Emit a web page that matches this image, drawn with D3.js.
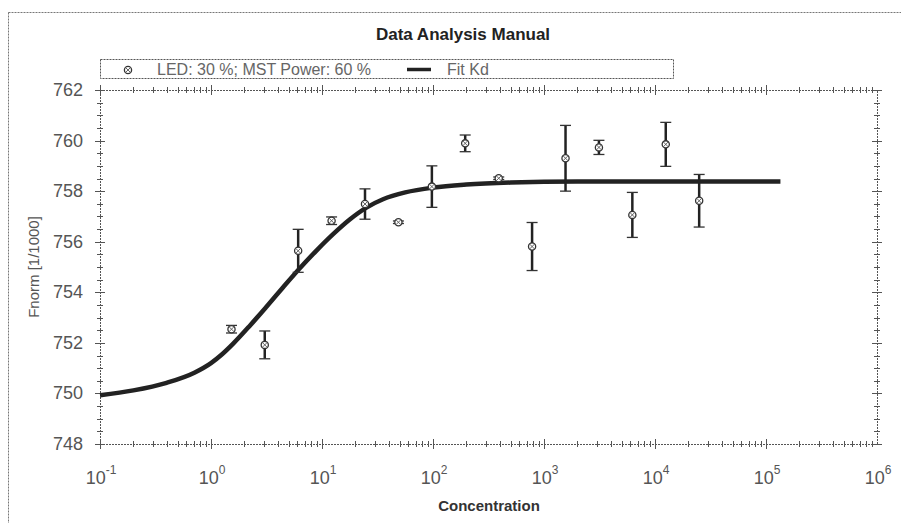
<!DOCTYPE html>
<html>
<head>
<meta charset="utf-8">
<script src="https://cdn.jsdelivr.net/npm/d3@7"></script>
<style>
	body { margin: 0; background: #fff; }
	svg { display: block; font-family: "Liberation Sans", Arial, sans-serif; }
</style>
</head>
<body>
<div id="graph"></div>
<script>
// measured points (concentration, Fnorm, error)
const conc  = [1.53, 3.05, 6.1, 12.2, 24.4, 48.8, 97.7, 195, 391, 781, 1563, 3125, 6250, 12500, 25000];
const fnorm = [752.54, 751.92, 755.64, 756.83, 757.49, 756.77, 758.18, 759.89, 758.51, 755.81, 759.30, 759.73, 757.06, 759.85, 757.62];
const errs  = [0.15, 0.55, 0.85, 0.15, 0.6, 0.05, 0.82, 0.33, 0.05, 0.95, 1.3, 0.28, 0.89, 0.87, 1.04];

// fit curve
const fitConc  = [0.1, 0.2, 0.398, 0.708, 1, 1.259, 1.585, 2.239, 3.162, 4.467, 6.31, 8.913, 12.59, 17.78, 25.12, 35.48, 56.23, 100, 199.5, 501.2, 1995, 134900];
const fitFnorm = [749.93, 750.12, 750.42, 750.82, 751.2, 751.55, 751.97, 752.68, 753.43, 754.2, 754.95, 755.65, 756.3, 756.88, 757.35, 757.68, 757.95, 758.14, 758.26, 758.34, 758.38, 758.38];

const yTicks = [748, 750, 752, 754, 756, 758, 760, 762];
const xTickExp = [-1, 0, 1, 2, 3, 4, 5, 6];

const title = 'Data Analysis Manual';
const seriesName = 'LED: 30 %; MST Power: 60 %';
const fitName = 'Fit Kd';

let W = 901, H = 523;
let margin = { top: 90, right: 24, bottom: 79, left: 100 };
let x = d3.scaleLog().domain([0.1, 1e6]).range([margin.left, W - margin.right]);
let y = d3.scaleLinear().domain([748, 762]).range([H - margin.bottom, margin.top]);

let svg = d3.select('#graph').append('svg')
	.attr('width', W)
	.attr('height', H);

// outer dotted frame
svg.append('rect')
	.attr('x', 8.5).attr('y', 12.5)
	.attr('width', 900).attr('height', 520)
	.attr('fill', 'none')
	.attr('stroke', '#777')
	.attr('stroke-dasharray', '2,1');

svg.append('text')
	.attr('x', 463).attr('y', 40)
	.attr('text-anchor', 'middle')
	.attr('font-size', 17)
	.attr('font-weight', 'bold')
	.attr('fill', '#222')
	.text(title);

// legend
let lg = svg.append('g');
lg.append('rect')
	.attr('x', 100.5).attr('y', 59.5)
	.attr('width', 573).attr('height', 19)
	.attr('fill', 'none')
	.attr('stroke', '#555')
	.attr('stroke-dasharray', '2,1');

const axisStroke = g => g
	.attr('stroke', '#555')
	.attr('stroke-width', 1)
	.attr('stroke-dasharray', '2,1');

let x0 = x.range()[0], x1 = x.range()[1];
let y0 = y.range()[0], y1 = y.range()[1];

// frame lines
let frame = svg.append('g').call(axisStroke);
frame.append('line').attr('x1', x0).attr('x2', x1).attr('y1', y0 + 0.5).attr('y2', y0 + 0.5);
frame.append('line').attr('x1', x0).attr('x2', x1).attr('y1', y1 + 0.5).attr('y2', y1 + 0.5);
frame.append('line').attr('x1', x0 + 0.5).attr('x2', x0 + 0.5).attr('y1', y0).attr('y2', y1);
frame.append('line').attr('x1', x1 + 0.5).attr('x2', x1 + 0.5).attr('y1', y0).attr('y2', y1);

// y ticks
let yMinor = d3.range(748, 762.01, 0.5);
let tk = svg.append('g').attr('stroke', '#555').attr('stroke-width', 1);
yMinor.forEach(v => {
	let major = Math.abs(v / 2 - Math.round(v / 2)) < 1e-6;
	let len = major ? 5 : 3;
	let yy = Math.round(y(v)) + 0.5;
	[x0, x1].forEach(xx => {
		tk.append('line').attr('x1', xx - len).attr('x2', xx + len).attr('y1', yy).attr('y2', yy);
	});
});

// x ticks (log minors)
xTickExp.forEach((e, i) => {
	if (i === xTickExp.length - 1) return;
	for (let m = 1; m < 10; m++) {
		let xx = Math.round(x(m * Math.pow(10, e))) + 0.5;
		let len = m === 1 ? 5 : 3;
		[y0, y1].forEach(yy => {
			tk.append('line').attr('x1', xx).attr('x2', xx).attr('y1', yy - len).attr('y2', yy + len);
		});
	}
});

svg.append('g')
	.selectAll('text')
	.data(yTicks)
	.join('text')
		.attr('x', 83)
		.attr('y', d => y(d) + 6)
		.attr('text-anchor', 'end')
		.attr('font-size', 18)
		.attr('fill', '#555')
		.text(d => d);

let xl = svg.append('g')
	.selectAll('text')
	.data(xTickExp)
	.join('text')
		.attr('x', d => x(Math.pow(10, d)) + 1)
		.attr('y', 484)
		.attr('text-anchor', 'middle')
		.attr('font-size', 18)
		.attr('fill', '#555');
xl.append('tspan').text('10');
xl.append('tspan').attr('dy', -10).attr('font-size', 12).text(d => d);

svg.append('text')
	.attr('x', 489).attr('y', 511)
	.attr('text-anchor', 'middle')
	.attr('font-size', 15)
	.attr('font-weight', 'bold')
	.attr('fill', '#333')
	.text('Concentration');

svg.append('text')
	.attr('transform', 'translate(39, 267) rotate(-90)')
	.attr('text-anchor', 'middle')
	.attr('font-size', 15)
	.attr('fill', '#555')
	.text('Fnorm [1/1000]');

// fit line
let line = d3.line()
	.x((d, i) => x(fitConc[i]))
	.y(d => y(d))
	.curve(d3.curveMonotoneX);

svg.append('path')
	.attr('d', line(fitFnorm))
	.attr('fill', 'none')
	.attr('stroke', '#222')
	.attr('stroke-width', 4.5);

// error bars + markers
let pts = svg.append('g');
conc.forEach((c, i) => {
	let xx = x(c);
	let ya = y(fnorm[i] + errs[i]), yb = y(fnorm[i] - errs[i]);
	pts.append('line').attr('x1', xx).attr('x2', xx).attr('y1', ya).attr('y2', yb)
		.attr('stroke', '#222').attr('stroke-width', 2.5);
	[ya, yb].forEach(yy => {
		pts.append('line').attr('x1', xx - 5.5).attr('x2', xx + 5.5).attr('y1', yy).attr('y2', yy)
			.attr('stroke', '#333').attr('stroke-width', 1.3);
	});
});

function marker(g, cx, cy) {
	g.append('circle').attr('cx', cx).attr('cy', cy).attr('r', 3.6)
		.attr('fill', '#fff').attr('stroke', '#333').attr('stroke-width', 1.3);
	g.append('path')
		.attr('d', `M${cx - 2.5},${cy - 2.5}L${cx + 2.5},${cy + 2.5}M${cx - 2.5},${cy + 2.5}L${cx + 2.5},${cy - 2.5}`)
		.attr('stroke', '#555').attr('stroke-width', 0.9);
}
conc.forEach((c, i) => marker(pts, x(c), y(fnorm[i])));

// legend content
marker(lg, 128, 70);
lg.append('text')
	.attr('x', 157).attr('y', 75)
	.attr('font-size', 16)
	.attr('fill', '#666')
	.text(seriesName);
lg.append('line')
	.attr('x1', 407).attr('x2', 431).attr('y1', 69.5).attr('y2', 69.5)
	.attr('stroke', '#222').attr('stroke-width', 3.5);
lg.append('text')
	.attr('x', 447).attr('y', 75)
	.attr('font-size', 16)
	.attr('fill', '#666')
	.text(fitName);
</script>
</body>
</html>
